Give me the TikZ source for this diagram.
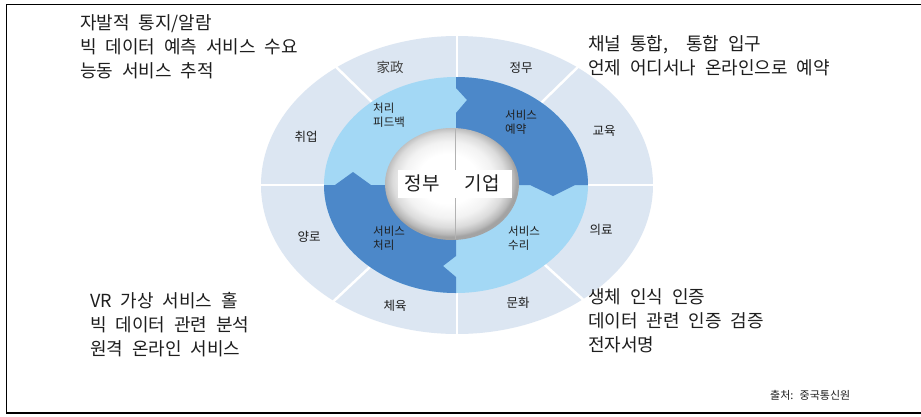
\documentclass[tikz,border=0pt]{standalone}
\usepackage{fontspec}
\newfontfamily\kr[WordSpace=2.2]{Noto Sans CJK KR}
\newfontfamily\zhfont{Noto Sans CJK SC}
\definecolor{outerring}{HTML}{DCE6F2}
\definecolor{lightblue}{HTML}{A3D8F5}
\definecolor{darkblue}{HTML}{4C88C9}
\definecolor{txt}{HTML}{1E1E1E}
\pgfdeclareradialshading{ballwhite}{\pgfpoint{-2bp}{3bp}}{color(0bp)=(white); color(11bp)=(white); color(17bp)=(black!5); color(21bp)=(black!14); color(24bp)=(black!28); color(25bp)=(black!36); color(50bp)=(black!36)}
\tikzset{
  bigtext/.style={font=\kr\fontsize{18}{24}\selectfont, text=txt, anchor=west, align=left, inner sep=0pt},
  seglabel/.style={font=\kr\fontsize{12.5}{14}\selectfont, text=txt, inner sep=0pt},
  innerlabel/.style={font=\kr\fontsize{11.5}{14}\selectfont, text=txt, anchor=north west, align=left, inner sep=0pt},
  sep/.style={white, line width=2.5pt},
}
\begin{document}
\begin{tikzpicture}[x=1pt,y=1pt]
\useasboundingbox (0,0) rectangle (921,-416);
\fill[white] (0,0) rectangle (921,-416);
\draw[line width=1.6pt] (921,-4.5) -- (6.5,-4.5) -- (6.5,-413) -- (921,-413);

% outer ring
\coordinate (c) at (457,-185);
\fill[outerring] (c) ellipse[x radius=196pt, y radius=149pt];
\foreach \a in {0,52,90,128,180,231,270,310}
  \draw[sep, shift={(c)}] (0,0) -- (\a:198pt and 151pt);

% inner ring
\coordinate (ci) at (456,-185);
\fill[lightblue] (ci) ellipse[x radius=132pt, y radius=108pt];
\fill[darkblue] (456,-77) -- (456,-88) -- (467,-100) -- (456,-113) -- (456,-185)
  -- (530,-185) -- (553,-196) -- (575,-185) -- (588,-185)
  arc[start angle=0, end angle=90, x radius=132pt, y radius=108pt] -- cycle;
\fill[darkblue] (456,-293) -- (456,-277) -- (443,-266) -- (456,-256) -- (456,-185)
  -- (371,-185) -- (353,-172) -- (335,-185) -- (324,-185)
  arc[start angle=180, end angle=270, x radius=132pt, y radius=108pt] -- cycle;

% white centre
\shade[shading=ballwhite] (452,-184) ellipse[x radius=67pt, y radius=56pt];
\draw[black!30, line width=0.7pt] (455,-129) -- (455,-239);
\node[fill=white, minimum width=114pt, minimum height=28pt, inner sep=0pt] (box) at (455,-183.5) {};
\node[font=\kr\fontsize{19}{20}\selectfont, text=txt] (gov) at (422,-183) {정부};
\node[font=\kr\fontsize{19}{20}\selectfont, text=txt] (ent) at (482,-183) {기업};

% segment labels
\node[seglabel, font=\zhfont\fontsize{13.5}{15}\selectfont, text=black!75] (jz) at (390,-67) {家政};
\node[seglabel] (zw) at (521,-68) {정무};
\node[seglabel] (jy) at (604,-131) {교육};
\node[seglabel] (yl) at (601,-230) {의료};
\node[seglabel] (wh) at (518,-303) {문화};
\node[seglabel] (ty) at (395,-306) {체육};
\node[seglabel] (yr) at (309,-237) {양로};
\node[seglabel] (qy) at (306,-137) {취업};

% inner labels
\node[innerlabel] (l1) at (373,-103) {처리\\피드백};
\node[innerlabel] (l2) at (505,-110) {서비스\\예약};
\node[innerlabel] (l3) at (373,-226) {서비스\\처리};
\node[innerlabel] (l4) at (508,-226) {서비스\\수리};

% corner texts
\node[bigtext] (tl) at (80,-47) {자발적 통지/알람\\빅 데이터 예측 서비스 수요\\능동 서비스 추적};
\node[bigtext] (tr) at (588,-56) {채널 통합,\ \ 통합 입구\\언제 어디서나 온라인으로 예약};
\node[bigtext] (bl) at (90,-325) {VR 가상 서비스 홀\\빅 데이터 관련 분석\\원격 온라인 서비스};
\node[bigtext] (br) at (588,-321) {생체 인식 인증\\데이터 관련 인증 검증\\전자서명};

\node[font=\kr\fontsize{11}{12}\selectfont, text=txt, anchor=west, inner sep=0pt] (src) at (770,-395) {출처: 중국통신원};
\end{tikzpicture}
\end{document}
